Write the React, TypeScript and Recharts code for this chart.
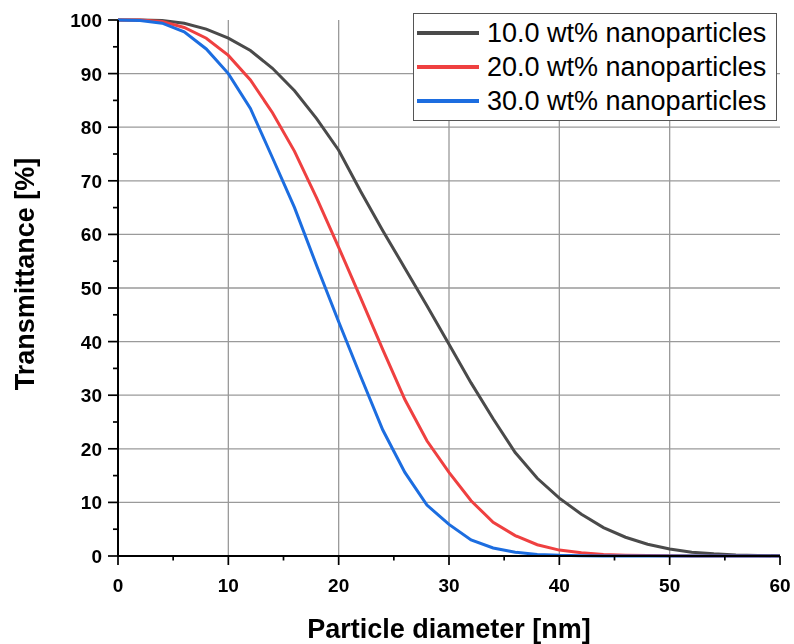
import { LineChart, Line, XAxis, YAxis, CartesianGrid } from 'recharts';

const FONT = '"Liberation Sans", Arial, Helvetica, sans-serif';

// particle diameter in nm
const diameters = [0, 2, 4, 6, 8, 10, 12, 14, 16, 18, 20, 22, 24, 26, 28, 30, 32, 34, 36, 38, 40, 42, 44, 46, 48, 50, 52, 54, 56, 58, 60];

// transmittance [%]
const wt10 = [100, 100, 99.9, 99.4, 98.3, 96.6, 94.3, 91.0, 86.8, 81.6, 75.7, 68.0, 60.7, 53.7, 46.7, 39.5, 32.3, 25.6, 19.3, 14.5, 10.8, 7.8, 5.3, 3.5, 2.2, 1.3, 0.7, 0.4, 0.2, 0.1, 0.05];
const wt20 = [100, 100, 99.7, 98.6, 96.6, 93.4, 88.8, 82.7, 75.5, 66.8, 57.6, 48.1, 38.5, 29.2, 21.5, 15.6, 10.3, 6.3, 3.8, 2.1, 1.1, 0.6, 0.3, 0.15, 0.08, 0.04, 0.02, 0.01, 0.01, 0, 0];
const wt30 = [100, 99.9, 99.4, 97.8, 94.6, 90.0, 83.5, 74.3, 65.0, 54.2, 43.7, 33.5, 23.5, 15.6, 9.5, 5.9, 3.0, 1.5, 0.7, 0.3, 0.12, 0.05, 0.02, 0.01, 0, 0, 0, 0, 0, 0, 0];

const series = [
  { key: 's10', name: '10.0 wt% nanoparticles', color: '#4a4a4a' },
  { key: 's20', name: '20.0 wt% nanoparticles', color: '#ef4040' },
  { key: 's30', name: '30.0 wt% nanoparticles', color: '#1c6de0' },
];

const xTicks = [0, 5, 10, 15, 20, 25, 30, 35, 40, 45, 50, 55, 60];
const yTicks = [0, 5, 10, 15, 20, 25, 30, 35, 40, 45, 50, 55, 60, 65, 70, 75, 80, 85, 90, 95, 100];
const xGrid = [10, 20, 30, 40, 50];
const yGrid = [10, 20, 30, 40, 50, 60, 70, 80, 90];

const XTick = (props: any) => {
  const { x, y, payload } = props;
  const major = payload.value % 10 === 0;
  return (
    <g>
      <line x1={x} x2={x} y1={y} y2={y + (major ? 9 : 4.5)} stroke="#000" strokeWidth={1.7} />
      {major && (
        <text x={x} y={y + 36} textAnchor="middle" fontFamily={FONT} fontWeight="bold" fontSize={19} fill="#000">
          {payload.value}
        </text>
      )}
    </g>
  );
};

const YTick = (props: any) => {
  const { x, y, payload } = props;
  const major = payload.value % 10 === 0;
  return (
    <g>
      <line x1={x} x2={x - (major ? 10 : 5)} y1={y} y2={y} stroke="#000" strokeWidth={1.7} />
      {major && (
        <text x={x - 16} y={y + 7} textAnchor="end" fontFamily={FONT} fontWeight="bold" fontSize={19} fill="#000">
          {payload.value}
        </text>
      )}
    </g>
  );
};

const XTitle = (props: any) => {
  const vb = props.viewBox || { x: 110, y: 548, width: 662, height: 88 };
  return (
    <text x={vb.x + vb.width / 2} y={630} textAnchor="middle" fontFamily={FONT} fontWeight="bold" fontSize={27} fill="#000">
      Particle diameter [nm]
    </text>
  );
};

const YTitle = () => {
  const cy = 266;
  return (
    <text x={26} y={cy} transform={`rotate(-90 26 ${cy})`} textAnchor="middle" fontFamily={FONT} fontWeight="bold" fontSize={27} fill="#000">
      Transmittance [%]
    </text>
  );
};

export default function App() {
  const rows = diameters.map((d, i) => ({ d, s10: wt10[i], s20: wt20[i], s30: wt30[i] }));
  return (
    <div style={{ position: 'fixed', left: 8, top: 8, width: 786, height: 636, fontFamily: FONT }}>
      <LineChart width={786} height={636} data={rows} margin={{ top: 12, right: 14, bottom: 0, left: 0 }} style={{ overflow: 'visible' }}>
        <CartesianGrid horizontalValues={yGrid} verticalValues={xGrid} stroke="#9a9a9a" strokeWidth={1.3} />
        <XAxis
          type="number"
          dataKey="d"
          domain={[0, 60]}
          ticks={xTicks}
          interval={0}
          tick={<XTick />}
          tickLine={false}
          tickSize={0}
          tickMargin={0}
          height={88}
          axisLine={{ stroke: '#000', strokeWidth: 2 }}
          label={XTitle}
        />
        <YAxis
          type="number"
          domain={[0, 100]}
          ticks={yTicks}
          interval={0}
          tick={<YTick />}
          tickLine={false}
          tickSize={0}
          tickMargin={0}
          width={110}
          axisLine={{ stroke: '#000', strokeWidth: 2 }}
          label={YTitle}
        />
        {series.map((s) => (
          <Line
            key={s.key}
            type="linear"
            dataKey={s.key}
            name={s.name}
            stroke={s.color}
            strokeWidth={3}
            dot={false}
            activeDot={false}
            isAnimationActive={false}
          />
        ))}
      </LineChart>
      <div
        style={{
          position: 'absolute',
          left: 405,
          top: 5,
          width: 362,
          height: 104,
          border: '1px solid #555',
          background: '#fff',
          paddingTop: 2,
          boxSizing: 'content-box',
        }}
      >
        {series.map((s) => (
          <div key={s.key} style={{ display: 'flex', alignItems: 'center', height: 34 }}>
            <div style={{ marginLeft: 3, width: 62, height: 3.5, background: s.color }} />
            <span style={{ marginLeft: 8, fontSize: 27, color: '#000', whiteSpace: 'nowrap', lineHeight: '34px' }}>{s.name}</span>
          </div>
        ))}
      </div>
    </div>
  );
}
